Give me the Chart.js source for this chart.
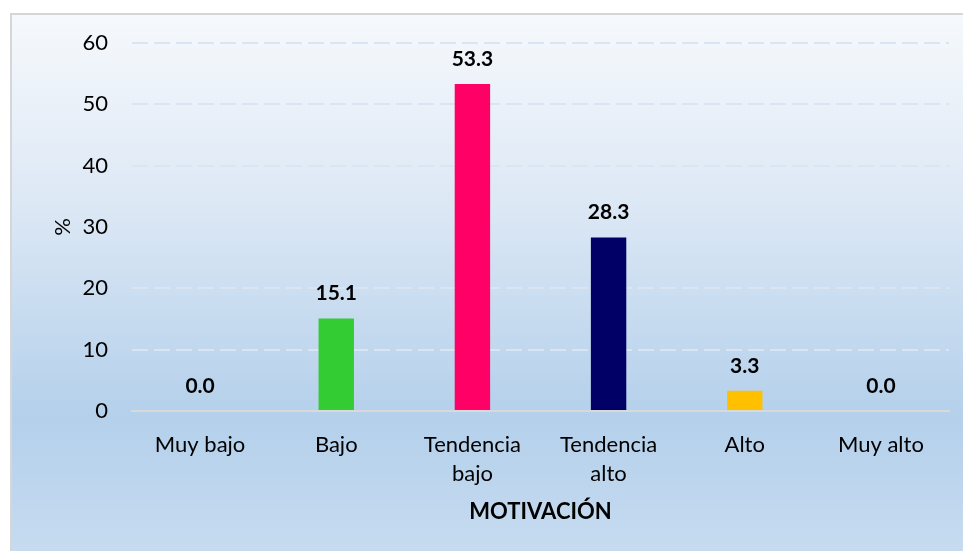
<!DOCTYPE html>
<html>
<head>
<meta charset="utf-8">
<script src="https://cdn.jsdelivr.net/npm/chart.js@4"></script>
<style>
html,body{margin:0;padding:0;background:#fff;}
canvas{display:block;}
</style>
</head>
<body>
<canvas id="c" width="963" height="551"></canvas>
<script>
const categories = [["Muy bajo"], ["Bajo"], ["Tendencia", "bajo"], ["Tendencia", "alto"], ["Alto"], ["Muy alto"]];
const values = [0.0, 15.1, 53.3, 28.3, 3.3, 0.0];
const barColors = ["#A5A5A5", "#33CC33", "#FF0066", "#000066", "#FFC000", "#A5A5A5"];
const yTicks = [0, 10, 20, 30, 40, 50, 60];
const xTitle = "MOTIVACIÓN";
const yTitle = "%";

const FONT = "Lato, 'Open Sans', sans-serif";

const bgPlugin = {
  id: 'bg',
  beforeDraw(chart) {
    const ctx = chart.ctx;
    const W = chart.width, H = chart.height;
    ctx.save();
    ctx.fillStyle = '#ffffff';
    ctx.fillRect(0, 0, W, H);
    const g = ctx.createLinearGradient(0, 13, 0, H);
    g.addColorStop(0, '#F6F9FC');
    g.addColorStop(0.35, '#DDE8F5');
    g.addColorStop(0.75, '#B4D0EB');
    g.addColorStop(1, '#C6DBF0');
    ctx.fillStyle = g;
    ctx.fillRect(11, 14, W - 11, H - 14);
    ctx.strokeStyle = '#D6D6D6';
    ctx.lineWidth = 2;
    ctx.strokeRect(11, 14, W + 10, H + 10);
    ctx.restore();
  }
};

const labelPlugin = {
  id: 'vlabels',
  afterDatasetsDraw(chart) {
    const ctx = chart.ctx;
    const meta = chart.getDatasetMeta(0);
    const data = chart.data.datasets[0].data;
    ctx.save();
    ctx.font = "bold 21px " + FONT;
    ctx.fillStyle = '#000';
    ctx.textAlign = 'center';
    ctx.textBaseline = 'middle';
    meta.data.forEach((bar, i) => {
      ctx.fillText(Number(data[i]).toFixed(1), bar.x, bar.y - 25);
    });
    ctx.restore();
  }
};

new Chart(document.getElementById('c'), {
  type: 'bar',
  data: {
    labels: categories,
    datasets: [{
      data: values,
      backgroundColor: barColors,
      borderWidth: 0,
      categoryPercentage: 1.0,
      barPercentage: 0.26
    }]
  },
  options: {
    responsive: false,
    animation: false,
    devicePixelRatio: 1,
    layout: { padding: { left: 0, top: 43, right: 14, bottom: 0 } },
    plugins: {
      legend: { display: false },
      tooltip: { enabled: false },
      title: { display: false }
    },
    scales: {
      x: {
        grid: { display: false, drawTicks: false },
        border: { display: true, color: '#D9D9D9', width: 2 },
        ticks: {
          color: '#000',
          font: { family: FONT, size: 22, lineHeight: 1.32 },
          padding: 19,
          maxRotation: 0,
          autoSkip: false
        },
        title: {
          display: true,
          text: xTitle,
          color: '#000',
          font: { family: FONT, size: 22, weight: 'bold', lineHeight: 1.2 },
          padding: { top: 0, bottom: 26 }
        },
        afterFit(scale) { scale.height = 140; }
      },
      y: {
        min: 0,
        max: 60,
        afterBuildTicks(scale) { scale.ticks = yTicks.map(v => ({ value: v })); },
        grid: {
          color: (c) => c.tick && c.tick.value === 0 ? 'rgba(0,0,0,0)' : '#D9E5F2',
          lineWidth: 2,
          drawTicks: false
        },
        border: { display: false, dash: [16, 6] },
        ticks: {
          color: '#000',
          font: { family: FONT, size: 22 },
          padding: 24
        },
        title: {
          display: true,
          text: yTitle,
          color: '#000',
          font: { family: FONT, size: 22, lineHeight: 1.2 },
          padding: { top: 50, bottom: 0 }
        },
        afterFit(scale) { scale.width = 132; }
      }
    }
  },
  plugins: [bgPlugin, labelPlugin]
});
</script>
</body>
</html>
